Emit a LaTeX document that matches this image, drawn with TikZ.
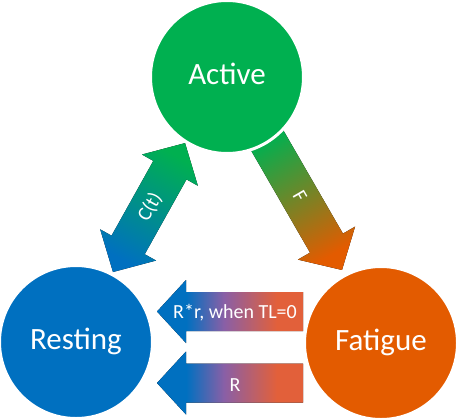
\documentclass[tikz,border=0pt]{standalone}
\usepackage{fontspec}
\setmainfont{Carlito}
\definecolor{actg}{HTML}{00B050}
\definecolor{restb}{HTML}{0070C0}
\definecolor{fato}{HTML}{E35B00}
\definecolor{arrpu}{HTML}{8A5FA6}
\definecolor{arrrd}{HTML}{E2603A}
\pgfdeclarehorizontalshading{recshade}{100bp}{color(0bp)=(restb); color(35bp)=(restb); color(48bp)=(arrpu); color(66bp)=(arrrd); color(100bp)=(arrrd)}
\begin{document}
\begin{tikzpicture}[x=1pt,y=-1pt,
  state/.style={circle, minimum size=153pt, inner sep=0pt, draw=white, line width=3pt,
    text=white, font=\fontsize{31}{37}\selectfont, text height=15pt, text depth=0pt},
  lbl/.style={text=white, font=\fontsize{20}{24}\selectfont, inner sep=0pt},
  recarrow/.style={shading=recshade}
]
\useasboundingbox (0,0) rectangle (457,418);
\coordinate (ct1) at (113,272);
\coordinate (fa1) at (262,131.4);
\coordinate (rr1) at (303,311.5);
\coordinate (rr2) at (303,383);

% C(t) double arrow
\fill[top color=actg, bottom color=restb, shading angle=-29.2, shift={(ct1)}, rotate=60.8]
  (0,0) -- (31,32) -- (31,19) -- (116.7,19) -- (116.7,32) -- (147.7,0)
  -- (116.7,-32) -- (116.7,-19) -- (31,-19) -- (31,-32) -- cycle;

% F arrow
\fill[top color=actg, bottom color=fato, shading angle=30, shift={(fa1)}, rotate=-60]
  (0,-19) -- (129,-19) -- (129,-33) -- (160,0) -- (129,33) -- (129,19) -- (0,19) -- cycle;

% recovery arrows
\fill[recarrow, shift={(rr1)}, rotate=180]
  (0,-19.5) -- (117,-19.5) -- (117,-31.5) -- (146,0) -- (117,31.5) -- (117,19.5) -- (0,19.5) -- cycle;
\fill[recarrow, shift={(rr2)}, rotate=180]
  (0,-19.5) -- (117,-19.5) -- (117,-31.5) -- (146,0) -- (117,31.5) -- (117,19.5) -- (0,19.5) -- cycle;

% states
\node[state, fill=actg] (act) at (227,77) {Active};
\node[state, fill=restb] (rest) at (76,342) {Resting};
\node[state, fill=fato] (fat) at (381,343) {Fatigue};

% labels
\node[lbl, rotate=60.8] (ctl) at (150,207) {C(t)};
\node[lbl, rotate=-60] (fl) at (300,196) {F};
\node[lbl, anchor=base] (rrl) at (235,318.3) {R*r, when TL=0};
\node[lbl, anchor=base] (rl) at (235,391.5) {R};
\end{tikzpicture}
\end{document}
